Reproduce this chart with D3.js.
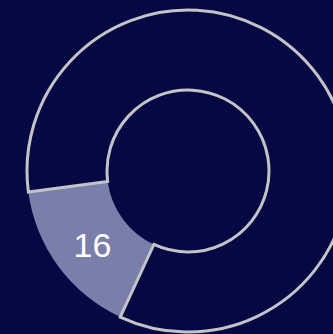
<!DOCTYPE html>
<html>
<head>
<meta charset="utf-8">
<script src="https://cdn.jsdelivr.net/npm/d3@7"></script>
<style>
  html, body { margin: 0; padding: 0; background: #050842; overflow: hidden; }
</style>
</head>
<body>
<div id="chart"></div>
<script>
// Data
const labels = ["rest", "value"]
const values = [84, 16]
const fills = ["#050842", "#7a7eab"]

// Chart parameters
const WIDTH = 333
const HEIGHT = 334
const CX = 188
const CY = 171
const OUTER = 161
const INNER = 81
const START = -97.5 * Math.PI / 180

let svg = d3.select("#chart").append("svg")
    .attr("width", WIDTH)
    .attr("height", HEIGHT)
    .style("display", "block")

svg.append("rect")
    .attr("width", WIDTH)
    .attr("height", HEIGHT)
    .attr("fill", "#050842")

let g = svg.append("g")
    .attr("transform", `translate(${CX},${CY})`)

let pie = d3.pie()
    .sort(null)
    .value(d => d.value)
    .startAngle(START)
    .endAngle(START + 2 * Math.PI)

let arcs = pie(labels.map((l, i) => ({label: l, value: values[i], fill: fills[i]})))

let arc = d3.arc()
    .innerRadius(INNER)
    .outerRadius(OUTER)

// filled slice first, stroked slice on top so its border stays whole
let order = arcs.slice().sort((a, b) => (a.data.label === "value" ? -1 : 1))

g.selectAll("path")
    .data(order)
    .enter()
    .append("path")
    .attr("d", arc)
    .attr("fill", d => d.data.fill)
    .attr("stroke", d => d.data.label === "value" ? "none" : "#c4c4c8")
    .attr("stroke-width", 3)

g.selectAll("text")
    .data(arcs.filter(d => d.data.label === "value"))
    .enter()
    .append("text")
    .attr("transform", d => {
        const c = arc.centroid(d)
        return `translate(${c[0] + 2},${c[1] + 2})`
    })
    .attr("text-anchor", "middle")
    .attr("dominant-baseline", "central")
    .attr("fill", "#ffffff")
    .style("font-family", "'Liberation Sans', Arial, sans-serif")
    .style("font-size", "34px")
    .text(d => d.data.value)
</script>
</body>
</html>
